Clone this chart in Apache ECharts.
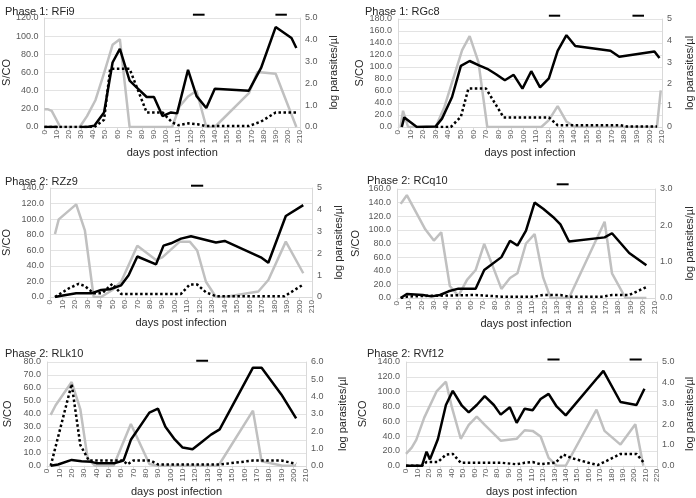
<!DOCTYPE html>
<html><head><meta charset="utf-8">
<script src="https://cdn.jsdelivr.net/npm/echarts@6/dist/echarts.min.js"></script>
<style>html,body{margin:0;padding:0;background:#fff}#c{width:696px;height:498px}</style>
</head><body><div id="c"></div>
<script>
// ---------- DATA ----------
const titles = ['Phase 1: RFi9','Phase 1: RGc8','Phase 2: RZz9','Phase 2: RCq10','Phase 2: RLk10','Phase 2: RVf12'];
const xLabel = 'days post infection';
const yLeftLabel = 'S/CO';
const yRightLabel = 'log parasites/µl';

// S/CO (black solid), [day, value]; '-' marks a gap
const sco1 = [[0,0],[11,0],[20,'-'],[29,0],[35,0],[41,1.5],[49,16],[56,71],[62,86],[70,51],[77,42],[84,33],[90,33],[97,12],[104,16],[109,15],[118,63],[125,34],[133,21],[140,42],[168,40],[178,65],[190,110],[203,98],[207,87]];
const sco2 = [[3,0],[5,16],[15,0],[30,1],[35,14],[43,50],[50,102],[57,110],[64,103],[71,97],[78,88],[85,78],[92,87],[99,64],[106,93],[113,66],[120,81],[127,127],[134,153],[141,135],[169,127],[176,117],[204,126],[208,115]];
const sco3 = [[4,0],[8,1.3],[21,4.7],[33,4.7],[41,9],[48,10],[57,15],[63,28],[70,52],[85,42],[91,66],[97,69],[105,75],[113,78],[133,70],[140,72],[169,51],[175,44],[189,104],[203,118]];
const sco4 = [[3,0],[8,5.9],[21,4.4],[28,2.4],[35,4.4],[42,9.8],[50,13.7],[64,13.7],[71,41],[85,60],[92,84],[98,77],[105,99],[112,140],[119,131],[127,119],[133,108],[140,83],[169,89],[175,95],[189,66],[203,48]];
const sco5 = [[3,0],[9,1],[20,4.5],[28,3.5],[36,3],[40,2],[55,2],[62,4],[68,20],[83,41],[90,44],[96,30],[103,21],[110,14],[118,12.7],[125,18],[133,24],[140,28],[167,75.6],[174,75.6],[190,55],[202,36.5]];
const sco6 = [[0,0],[14,0],[18,19],[21,8.6],[28,36],[35,82],[41,101],[49,81],[55,72],[62,82],[69,94],[77,82],[83,69],[91,79],[97,58],[104,77],[111,75],[118,90],[125,97],[132,80],[140,68],[168,119],[173,128],[188,86],[202,82],[209,104]];

// log parasites/µl (grey), [day, value]
const par1 = [[0,0.81],[3,0.81],[6,0.74],[13,0],[29,0],[35,0.5],[42,1.24],[49,2.47],[56,3.77],[62,4.03],[70,0],[105,0],[111,0.94],[118,1.4],[125,1.66],[133,0],[140,0],[168,1.55],[175,2.52],[190,2.44],[207,0]];
const par2 = [[2,0],[4,0.75],[8,0],[30,0],[37,0.94],[51,3.56],[57,4.21],[64,3.0],[71,0],[114,0],[120,0.32],[127,0.97],[134,0.25],[141,0],[206,0],[209,1.7]];
const par3 = [[4,2.89],[7,3.56],[21,4.25],[28,3.04],[35,0],[41,0],[50,0.32],[57,0.7],[70,2.35],[85,1.7],[90,1.82],[104,2.54],[112,2.54],[118,2.13],[125,0.7],[133,0],[140,0],[167,0.25],[175,0.78],[189,2.54],[203,1.09]];
const par4 = [[3,2.59],[8,2.83],[16,2.33],[23,1.89],[30,1.58],[36,1.81],[43,0.33],[50,0.06],[57,0.5],[64,0.77],[71,1.49],[85,0.25],[92,0.55],[98,0.68],[105,1.5],[112,1.76],[119,0.56],[125,0],[140,0],[169,2.1],[175,0.68],[186,0],[203,0]];
const par5 = [[3,2.94],[7,3.5],[20,4.84],[27,3.28],[33,0.4],[39,0],[54,0],[68,2.42],[83,0.1],[90,0],[139,0],[167,3.19],[174,0.26],[191,0],[202,0]];
const par6 = [[0,0.57],[5,0.87],[9,1.25],[16,2.32],[27,3.6],[35,4.05],[40,2.86],[48,1.3],[55,1.97],[62,2.37],[69,1.97],[83,1.21],[97,1.3],[104,1.71],[111,1.68],[118,1.41],[125,0.38],[132,0],[140,0],[167,2.7],[174,1.68],[188,1.02],[201,2.0],[208,0]];

// second antibody measure (black dotted), [day, value]
const ab1 = [[0,0],[41,0],[49,8],[54,64],[70,64],[77,40],[84,16],[97,16],[105,5],[110,2],[118,4],[126,3],[133,1],[168,1],[178,6],[190,16],[207,16]];
const ab2 = [[30,0],[42,0],[50,17],[56,64],[70,64],[84,16],[120,16],[127,3],[177,3],[182,1],[206,1]];
const ab3 = [[4,0],[15,11],[23,17],[28,14],[35,4.7],[42,5],[50,17],[57,4],[105,4],[112,16],[118,16],[125,6],[133,1],[188,1],[203,16]];
const ab4 = [[3,0],[8,2],[21,3],[64,4.4],[85,2],[112,2],[119,4.4],[133,4.4],[140,2],[168,2],[175,4.4],[189,4.4],[203,16]];
const ab5 = [[3,0],[20,63],[27,16],[34,4],[62,4],[65,1],[70,4],[84,4],[90,1],[140,1],[167,4],[190,4],[202,1.5]];
const ab6 = [[0,0],[14,0],[18,5],[28,5],[35,15],[41,16],[48,4],[84,4],[97,2],[104,4],[111,5],[118,2],[131,4],[138,15],[146,10],[160,4],[168,1],[175,6],[188,16],[202,16],[208,5]];

// treatment periods (short bars above plot), [startDay, endDay]
const treat1 = [[122,131.6],[189.8,199.2]];
const treat2 = [[120,129],[186.5,195.7]];
const treat3 = [[113,122.8]];
const treat4 = [[130,139.7]];
const treat5 = [[121,130.6]];
const treat6 = [[124,134.6],[196,206.6]];

// axis ranges
const leftMax = [120,180,140,160,80,140];
const leftStep = [20,20,20,20,10,20];
const rightMax = [5,5,5,3,6,5];
const rightDec = [1,0,0,1,1,1];
const xMax = [210,210,210,210,210,220];

// ---------- LAYOUT ----------
const layout = [
  {left:39, top:18, w:261, h:109, tx:0, ty:1, lg:31, rg:28, bar:3.3},
  {left:398,top:19, w:268, h:108, tx:360,ty:1, lg:30, rg:22, bar:3.3},
  {left:48, top:188,w:264, h:109, tx:0, ty:171, lg:38, rg:21, bar:2.3},
  {left:397,top:189,w:259, h:109, tx:362,ty:170, lg:36, rg:29, bar:4.7},
  {left:47, top:362,w:259, h:109, tx:0, ty:343, lg:34, rg:31, bar:1.3},
  {left:406,top:362,w:258, h:109, tx:362,ty:343, lg:38, rg:27, bar:2.7}
];
const scos=[sco1,sco2,sco3,sco4,sco5,sco6];
const pars=[par1,par2,par3,par4,par5,par6];
const abs=[ab1,ab2,ab3,ab4,ab5,ab6];
const treats=[treat1,treat2,treat3,treat4,treat5,treat6];

const FONT = '"Liberation Sans", Arial, sans-serif';
const lblColor = '#595959';
const grid=[], xAxis=[], yAxis=[], series=[], title=[];
layout.forEach((L,i)=>{
  grid.push({left:L.left, top:L.top, width:L.w, height:L.h, containLabel:false});
  title.push({text:titles[i], left:L.tx, top:L.ty, textStyle:{fontFamily:FONT, fontSize:11, fontWeight:'normal', color:'#262626'}});
  xAxis.push({type:'value', gridIndex:i, min:0, max:xMax[i], interval:10,
    name:xLabel, nameLocation:'middle', nameGap:19,
    nameTextStyle:{fontFamily:FONT, fontSize:11, color:'#262626'},
    axisLine:{show:true, lineStyle:{color:'#d9d9d9'}},
    axisTick:{show:true, length:3, lineStyle:{color:'#d9d9d9'}},
    axisLabel:{rotate:90, fontFamily:FONT, fontSize:8, color:lblColor, margin:3},
    splitLine:{show:false}});
  yAxis.push({type:'value', gridIndex:i, min:0, max:leftMax[i], interval:leftStep[i], position:'left',
    name:yLeftLabel, nameLocation:'middle', nameGap:L.lg, nameRotate:90,
    nameTextStyle:{fontFamily:FONT, fontSize:11, color:'#262626'},
    axisLine:{show:true, lineStyle:{color:'#d9d9d9'}},
    axisTick:{show:false},
    axisLabel:{fontFamily:FONT, fontSize:9, color:lblColor, margin:6, formatter:v=>v.toFixed(1)},
    splitLine:{show:true, lineStyle:{color:'#e3e3e3'}}});
  yAxis.push({type:'value', gridIndex:i, min:0, max:rightMax[i], interval:1, position:'right',
    name:yRightLabel, nameLocation:'middle', nameGap:L.rg, nameRotate:90,
    nameTextStyle:{fontFamily:FONT, fontSize:11, color:'#262626'},
    axisLine:{show:true, lineStyle:{color:'#d9d9d9'}},
    axisTick:{show:false},
    axisLabel:{fontFamily:FONT, fontSize:9, color:lblColor, margin:5, formatter:v=>v.toFixed(rightDec[i])},
    splitLine:{show:false}});
  series.push({type:'line', xAxisIndex:i, yAxisIndex:2*i+1, data:pars[i], showSymbol:false, symbol:'none',
    lineStyle:{color:'#c0c0c0', width:2.5}, z:2, animation:false});
  series.push({type:'line', xAxisIndex:i, yAxisIndex:2*i, data:abs[i], showSymbol:false, symbol:'none',
    lineStyle:{color:'#000', width:2.5, type:[2.5,2.5], cap:'butt'}, z:3, animation:false});
  series.push({type:'line', xAxisIndex:i, yAxisIndex:2*i, data:scos[i], showSymbol:false, symbol:'none', connectNulls:false,
    lineStyle:{color:'#000', width:2.5}, z:4, animation:false});
  const level = leftMax[i] + L.bar*leftMax[i]/L.h;
  treats[i].forEach(t=>{
    series.push({type:'line', xAxisIndex:i, yAxisIndex:2*i, data:[[t[0],level],[t[1],level]], clip:false,
      showSymbol:false, symbol:'none', lineStyle:{color:'#000', width:2}, z:5, animation:false});
  });
});

const chart = echarts.init(document.getElementById('c'), null, {renderer:'canvas'});
chart.setOption({animation:false, backgroundColor:'#fff', title, grid, xAxis, yAxis, series});
</script></body></html>
